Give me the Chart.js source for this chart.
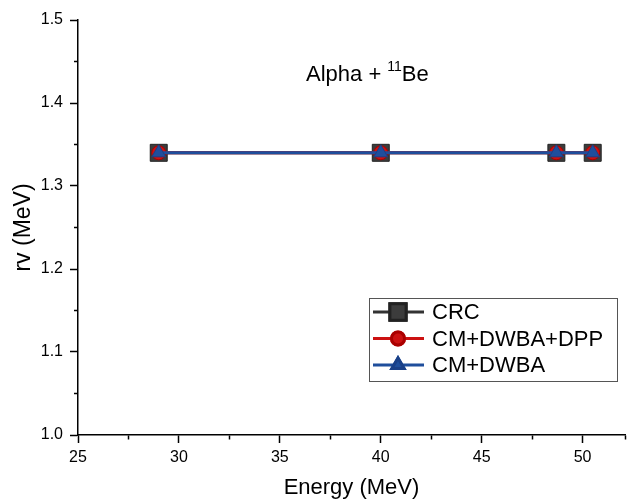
<!doctype html>
<html lang="en">
<head>
  <meta charset="utf-8" />
  <title>Alpha + 11Be rv</title>
  <script src="https://cdn.jsdelivr.net/npm/chart.js"></script>
  <style>
    body { margin: 0; background: #fff; }
    canvas { display: block; }
  </style>
</head>
<body>
  <canvas id="rvChart" width="630" height="501"></canvas>

  <script>
    // data
    const energies = [29, 40, 48.7, 50.5];
    const crcValues = [1.34, 1.34, 1.34, 1.34];
    const dppValues = [1.34, 1.34, 1.34, 1.34];
    const dwbaValues = [1.34, 1.34, 1.34, 1.34];
    const seriesLabels = ['CRC', 'CM+DWBA+DPP', 'CM+DWBA'];
    const xTicks = [25, 30, 35, 40, 45, 50];
    const yTicks = [1.0, 1.1, 1.2, 1.3, 1.4, 1.5];

    const FONT = "'Liberation Sans', Arial, sans-serif";

    function toPoints(ys) {
      return energies.map((e, i) => ({ x: e, y: ys[i] }));
    }

    // title with superscript, drawn on the canvas
    const titlePlugin = {
      id: 'reactionTitle',
      afterDraw(chart) {
        const ctx = chart.ctx;
        ctx.save();
        ctx.fillStyle = '#000';
        ctx.textBaseline = 'alphabetic';
        ctx.font = '22px ' + FONT;
        let x = 306;
        ctx.fillText('Alpha + ', x, 81);
        x += ctx.measureText('Alpha + ').width;
        ctx.font = '14px ' + FONT;
        ctx.fillText('11', x, 71);
        x += ctx.measureText('11').width;
        ctx.font = '22px ' + FONT;
        ctx.fillText('Be', x, 81);
        ctx.restore();
      }
    };

    // boxed legend inside the plot, like the Origin one
    const legendPlugin = {
      id: 'boxLegend',
      afterDraw(chart) {
        const ctx = chart.ctx;
        const box = { x: 369.5, y: 298.5, w: 248, h: 83 };
        ctx.save();
        ctx.strokeStyle = '#555';
        ctx.lineWidth = 1;
        ctx.strokeRect(box.x, box.y, box.w, box.h);
        chart.data.datasets.forEach((ds, i) => {
          const cy = 312 + i * 26.5;
          ctx.strokeStyle = ds.borderColor;
          ctx.lineWidth = 3;
          ctx.beginPath();
          ctx.moveTo(373, cy);
          ctx.lineTo(424, cy);
          ctx.stroke();
          Chart.helpers.drawPoint(ctx, {
            pointStyle: ds.pointStyle,
            radius: ds.legendRadius,
            borderWidth: 1
          }, 398, cy);
          ctx.fillStyle = ds.pointBackgroundColor;
          ctx.strokeStyle = ds.pointBorderColor;
          Chart.helpers.drawPoint(ctx, {
            pointStyle: ds.pointStyle,
            radius: ds.legendRadius,
            borderWidth: 1
          }, 398, cy);
          ctx.fillStyle = '#000';
          ctx.font = '22px ' + FONT;
          ctx.textBaseline = 'middle';
          ctx.fillText(ds.label, 432, cy + 1);
        });
        ctx.restore();
      }
    };

    const ctx = document.getElementById('rvChart').getContext('2d');
    const rvChart = new Chart(ctx, {
      type: 'line',
      data: {
        datasets: [{
          label: seriesLabels[0],
          data: toPoints(crcValues),
          borderColor: '#333333',
          borderWidth: 3,
          pointStyle: 'rect',
          pointRadius: 12,
          legendRadius: 11.5,
          pointBackgroundColor: '#3c3c3c',
          pointBorderColor: '#222222',
          pointBorderWidth: 1,
          order: 3
        }, {
          label: seriesLabels[1],
          data: toPoints(dppValues),
          borderColor: '#cc1111',
          borderWidth: 3,
          pointStyle: 'circle',
          pointRadius: 7,
          legendRadius: 6.5,
          pointBackgroundColor: '#cc1111',
          pointBorderColor: '#aa0000',
          pointBorderWidth: 1,
          order: 2
        }, {
          label: seriesLabels[2],
          data: toPoints(dwbaValues),
          borderColor: '#1f4e9c',
          borderWidth: 3,
          pointStyle: 'triangle',
          pointRadius: 8,
          legendRadius: 7,
          pointBackgroundColor: '#1f4e9c',
          pointBorderColor: '#1a4088',
          pointBorderWidth: 1,
          order: 1
        }]
      },
      options: {
        responsive: false,
        animation: false,
        layout: { autoPadding: false, padding: { top: 20, right: 2, left: 0, bottom: 0 } },
        plugins: {
          legend: { display: false },
          tooltip: { enabled: false }
        },
        scales: {
          x: {
            type: 'linear',
            min: 25,
            max: 52.1,
            bounds: 'data',
            afterFit(scale) { scale.height = 66; },
            border: { color: '#000', width: 1.5 },
            grid: {
              drawOnChartArea: false,
              drawTicks: true,
              tickLength: 8,
              color: '#000',
              tickWidth: 1.5,
              tickBorderDash: c => (c.tick && c.tick.value % 5 !== 0) ? [4, 100] : []
            },
            ticks: {
              stepSize: 2.5,
              includeBounds: false,
              padding: 5,
              color: '#000',
              font: { family: FONT, size: 16 },
              maxRotation: 0,
              autoSkip: false,
              callback: v => xTicks.includes(v) ? String(v) : ''
            },
            title: {
              display: true,
              text: 'Energy (MeV)',
              color: '#000',
              font: { family: FONT, size: 22 },
              padding: { top: 0, bottom: 0 }
            }
          },
          y: {
            min: 1.0,
            max: 1.5,
            bounds: 'data',
            afterFit(scale) { scale.width = 78; },
            border: { color: '#000', width: 1.5 },
            grid: {
              drawOnChartArea: false,
              drawTicks: true,
              tickLength: 8,
              color: '#000',
              tickWidth: 1.5,
              tickBorderDash: c => (c.tick && Math.round(c.tick.value * 100) % 10 !== 0) ? [0, 4, 10, 100] : []
            },
            ticks: {
              stepSize: 0.05,
              includeBounds: false,
              padding: 7,
              color: '#000',
              font: { family: FONT, size: 16 },
              autoSkip: false,
              callback: v => {
                const t = yTicks.find(y => Math.abs(y - v) < 1e-6);
                return t !== undefined ? t.toFixed(1) : '';
              }
            },
            title: {
              display: true,
              text: 'rv (MeV)',
              color: '#000',
              font: { family: FONT, size: 23 },
              padding: { top: 10, bottom: 0 }
            }
          }
        }
      },
      plugins: [titlePlugin, legendPlugin]
    });
  </script>
</body>
</html>
